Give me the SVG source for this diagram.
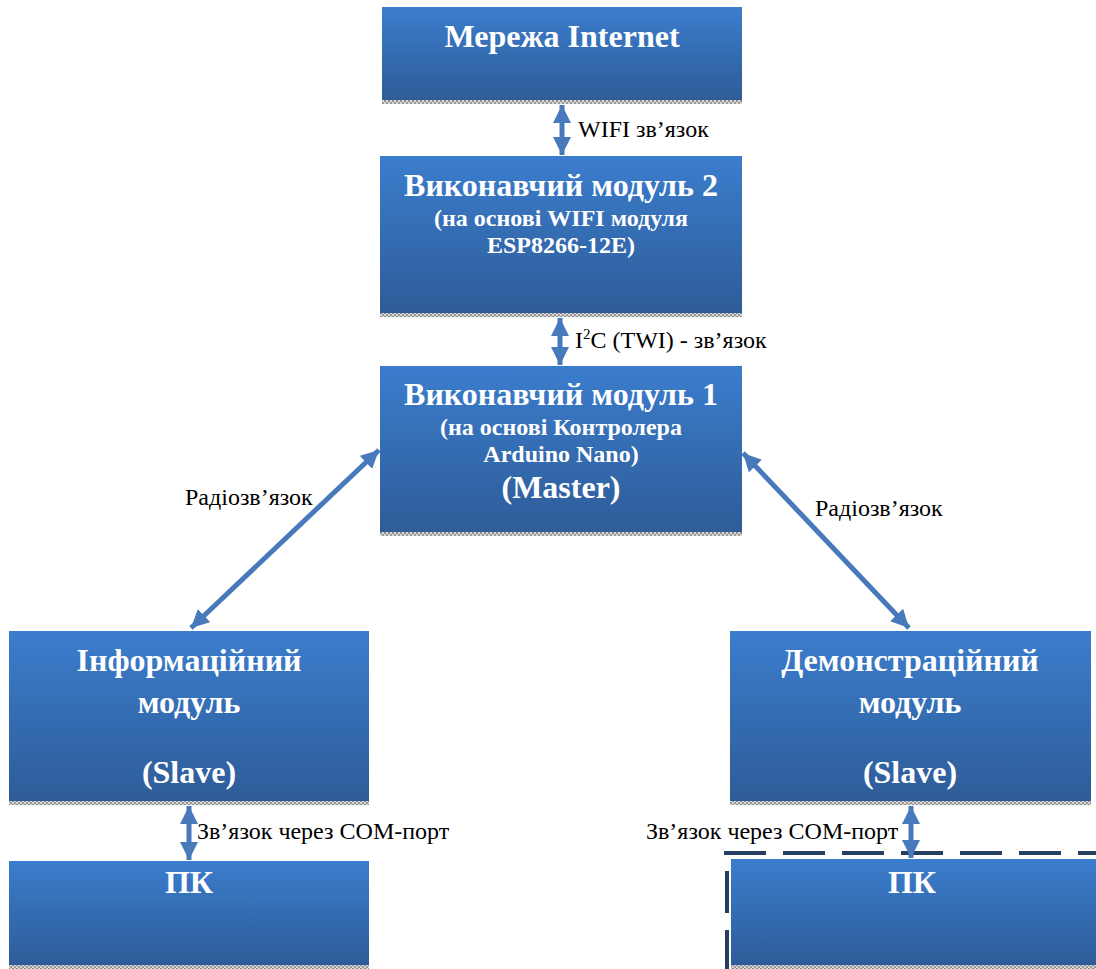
<svg xmlns="http://www.w3.org/2000/svg" width="1096" height="969" viewBox="0 0 1096 969">
<defs>
<linearGradient id="g" x1="0" y1="0" x2="0" y2="1">
<stop offset="0" stop-color="#3b7dcd"/>
<stop offset="1" stop-color="#2e5c98"/>
</linearGradient>
<pattern id="sh" width="4" height="4" patternUnits="userSpaceOnUse">
<rect width="4" height="4" fill="#d8d8d8"/>
<rect width="2" height="2" fill="#8c8c8c"/>
<rect x="2" y="2" width="2" height="2" fill="#9a9a9a"/>
</pattern>
<marker id="ah" viewBox="0 0 10 10" refX="10" refY="5" markerWidth="3.6" markerHeight="3.6" markerUnits="strokeWidth" orient="auto-start-reverse">
<path d="M0,0 L10,5 L0,10 z" fill="#4779bb"/>
</marker>
</defs>
<style>
.box{fill:url(#g)}
.sh{fill:url(#sh)}
.t{font-family:"Liberation Serif","Times New Roman",serif;font-weight:bold;fill:#fff;text-anchor:middle}
.big{font-size:32px}
.sm{font-size:24px}
.lbl{font-family:"Liberation Serif","Times New Roman",serif;font-size:24px;fill:#000}
.c{stroke:#4779bb;stroke-width:5;fill:none;marker-start:url(#ah);marker-end:url(#ah)}
.d{stroke:#243f60;stroke-width:4;fill:none;stroke-dasharray:42 17}
</style>
<g id="internet">
<rect class="box" x="382" y="7" width="360" height="93"/>
<rect class="sh" x="382" y="100" width="360" height="4"/>
<text class="t big" x="562" y="47">Мережа Internet</text>
</g>
<g id="module2">
<rect class="box" x="380" y="156" width="362" height="157"/>
<rect class="sh" x="380" y="313" width="362" height="4"/>
<text class="t big" x="561" y="196">Виконавчий модуль 2</text>
<text class="t sm" x="561" y="226">(на основі WIFI модуля</text>
<text class="t sm" x="561" y="253">ESP8266-12E)</text>
</g>
<g id="module1">
<rect class="box" x="380" y="366" width="362" height="166"/>
<rect class="sh" x="380" y="532" width="362" height="4"/>
<text class="t big" x="561" y="405">Виконавчий модуль 1</text>
<text class="t sm" x="561" y="435">(на основі Контролера</text>
<text class="t sm" x="561" y="462">Arduino Nano)</text>
<text class="t big" x="561" y="498">(Master)</text>
</g>
<g id="info">
<rect class="box" x="9" y="631" width="360" height="170"/>
<rect class="sh" x="9" y="801" width="360" height="4"/>
<text class="t big" x="189" y="671">Інформаційний</text>
<text class="t big" x="189" y="713">модуль</text>
<text class="t big" x="189" y="783">(Slave)</text>
</g>
<g id="demo">
<rect class="box" x="730" y="631" width="361" height="170"/>
<rect class="sh" x="730" y="801" width="361" height="4"/>
<text class="t big" x="910" y="671">Демонстраційний</text>
<text class="t big" x="910" y="713">модуль</text>
<text class="t big" x="910" y="783">(Slave)</text>
</g>
<g id="pc1">
<rect class="box" x="9" y="861" width="360" height="104"/>
<rect class="sh" x="9" y="965" width="360" height="4"/>
<text class="t big" x="189" y="893">ПК</text>
</g>
<g id="pc2">
<rect class="box" x="731" y="859" width="365" height="106"/>
<rect class="sh" x="731" y="965" width="365" height="4"/>
<text class="t big" x="912" y="893">ПК</text>
<line class="d" x1="724" y1="853" x2="1096" y2="853"/>
<line class="d" x1="727" y1="871" x2="727" y2="969"/>
</g>
<g id="connectors">
<line class="c" x1="562" y1="105" x2="562" y2="155"/>
<line class="c" x1="560" y1="318" x2="560" y2="365"/>
<line class="c" x1="379" y1="450" x2="191" y2="628"/>
<line class="c" x1="743" y1="453" x2="909" y2="628"/>
<line class="c" x1="189" y1="806" x2="189" y2="860"/>
<line class="c" x1="911" y1="806" x2="911" y2="858"/>
</g>
<g id="labels">
<text class="lbl" x="578" y="137">WIFI зв’язок</text>
<text class="lbl" x="575" y="348">I<tspan font-size="15" dy="-9">2</tspan><tspan dy="9">C (TWI) - зв’язок</tspan></text>
<text class="lbl" x="185" y="505">Радіозв’язок</text>
<text class="lbl" x="815" y="516">Радіозв’язок</text>
<text class="lbl" x="197" y="839">Зв’язок через COM-порт</text>
<text class="lbl" x="646" y="839">Зв’язок через COM-порт</text>
</g>
</svg>
